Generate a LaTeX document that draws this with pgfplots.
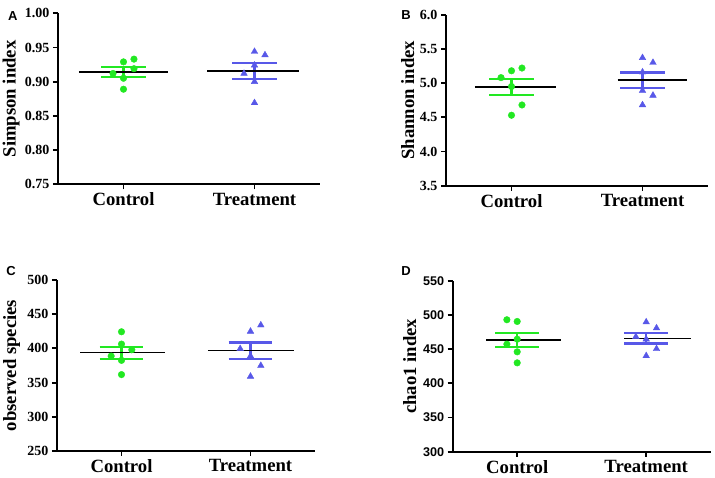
\documentclass[border=0pt]{standalone}
\usepackage{pgfplots}
\pgfplotsset{compat=1.18}
\usepackage{fontspec}
\setmainfont{Liberation Serif}
\newfontfamily\arialf{Liberation Sans}
\definecolor{cgreen}{RGB}{34,232,34}
\definecolor{cblue}{RGB}{88,88,232}
\pgfplotsset{
 myax/.style={scale only axis, height=171pt, anchor=south west,
  xmin=-0.5, xmax=1.5, axis x line*=bottom, axis y line*=left,
  axis line style={-, line width=1.9pt}, xtick={0,1}, xticklabels={Control,Treatment},
  tick style={line width=1.9pt, black}, tick align=outside, major tick length=5pt,
  minor tick num=0, clip=false,
  xticklabel style={font=\bfseries\fontsize{18.7}{20}\selectfont},
  yticklabel style={font=\bfseries\fontsize{14}{14}\selectfont},
  /pgf/number format/assume math mode=true,
  ylabel style={font=\bfseries\fontsize{18.7}{20}\selectfont, anchor=center}},
 ctrl/.style={only marks, mark=*, mark size=3.3pt, color=cgreen, mark options={draw=cgreen, fill=cgreen}},
 trt/.style={only marks, mark=triangle*, mark size=3.8pt, color=cblue, mark options={draw=cblue, fill=cblue}},
 meanl/.style={black, line width=1.5pt, no markers},
 gbar/.style={cgreen, line width=2.2pt, no markers},
 bbar/.style={cblue, line width=2.2pt, no markers},
}
\begin{document}
\begin{tikzpicture}
\path[use as bounding box] (0,0) rectangle (715pt,478pt);
% Panel A
\begin{axis}[myax, at={(58pt,293.7pt)}, width=262pt,
  ymin=0.75, ymax=1.0, ytick={0.75,0.8,0.85,0.9,0.95,1},
  yticklabel style={/pgf/number format/fixed, /pgf/number format/fixed zerofill, /pgf/number format/precision=2},
  ylabel={Simpson index}, ylabel style={at={(axis description cs:-0.179,0.5)}}]
\addplot[ctrl] coordinates {(0,0.929) (0.08,0.933) (-0.08,0.912) (0.08,0.919) (0,0.905) (0,0.889)};
\addplot[trt] coordinates {(1,0.944) (1.08,0.939) (0.92,0.912) (1,0.924) (1,0.900) (1,0.869)};
\addplot[gbar] coordinates {(-0.17,0.921) (0.17,0.921)};
\addplot[gbar] coordinates {(-0.17,0.907) (0.17,0.907)};
\addplot[gbar] coordinates {(0,0.907) (0,0.921)};
\addplot[bbar] coordinates {(0.83,0.927) (1.17,0.927)};
\addplot[bbar] coordinates {(0.83,0.904) (1.17,0.904)};
\addplot[bbar] coordinates {(1,0.904) (1,0.927)};
\addplot[meanl] coordinates {(-0.34,0.9145) (0.34,0.9145)};
\addplot[meanl] coordinates {(0.64,0.9155) (1.34,0.9155)};
\end{axis}
% Panel B
\begin{axis}[myax, at={(446pt,292.3pt)}, width=262pt,
  ymin=3.5, ymax=6.0, ytick={3.5,4,4.5,5,5.5,6},
  yticklabel style={/pgf/number format/fixed, /pgf/number format/fixed zerofill, /pgf/number format/precision=1},
  ylabel={Shannon index}, ylabel style={at={(axis description cs:-0.146,0.5)}}]
\addplot[ctrl] coordinates {(0,5.18) (0.08,5.22) (-0.08,5.08) (0,4.95) (0.08,4.68) (0,4.53)};
\addplot[trt] coordinates {(1,5.37) (1.08,5.30) (1,5.16) (1,4.89) (1.08,4.82) (1,4.68)};
\addplot[gbar] coordinates {(-0.17,5.056) (0.17,5.056)};
\addplot[gbar] coordinates {(-0.17,4.83) (0.17,4.83)};
\addplot[gbar] coordinates {(0,4.83) (0,5.056)};
\addplot[bbar] coordinates {(0.83,5.154) (1.17,5.154)};
\addplot[bbar] coordinates {(0.83,4.93) (1.17,4.93)};
\addplot[bbar] coordinates {(1,4.93) (1,5.154)};
\addplot[meanl] coordinates {(-0.28,4.944) (0.34,4.944)};
\addplot[meanl] coordinates {(0.81,5.042) (1.34,5.042)};
\end{axis}
% Panel C
\begin{axis}[myax, at={(57pt,27pt)}, width=258pt,
  ymin=250, ymax=500, ytick={250,300,350,400,450,500},
  ylabel={observed species}, ylabel style={at={(axis description cs:-0.176,0.5)}}]
\addplot[ctrl] coordinates {(0,424.3) (0,406.3) (0.08,398) (-0.08,388.8) (0,382.5) (0,361.7)};
\addplot[trt] coordinates {(1.08,434) (1,424.8) (0.92,399.5) (1,388.8) (1.08,374.8) (1,359)};
\addplot[gbar] coordinates {(-0.17,402) (0.17,402)};
\addplot[gbar] coordinates {(-0.17,385) (0.17,385)};
\addplot[gbar] coordinates {(0,385) (0,402)};
\addplot[bbar] coordinates {(0.83,408.7) (1.17,408.7)};
\addplot[bbar] coordinates {(0.83,385) (1.17,385)};
\addplot[bbar] coordinates {(1,385) (1,408.7)};
\addplot[meanl] coordinates {(-0.32,393.7) (0.34,393.7)};
\addplot[meanl] coordinates {(0.67,397) (1.34,397)};
\end{axis}
% Panel D
\begin{axis}[myax, at={(452.7pt,26.3pt)}, width=258pt,
  ymin=300, ymax=550, ytick={300,350,400,450,500,550},
  yticklabel style={font=\arialf\bfseries\fontsize{12.6}{13}\selectfont},
  ylabel={chao1 index}, ylabel style={at={(axis description cs:-0.167,0.5)}}]
\addplot[ctrl] coordinates {(-0.08,492.9) (0,490.4) (0,464.5) (-0.08,457.2) (0,446) (0,429.9)};
\addplot[trt] coordinates {(1,489.5) (1.08,480.7) (0.92,468) (1,464.5) (1.08,450.4) (1,440.1)};
\addplot[gbar] coordinates {(-0.17,473.8) (0.17,473.8)};
\addplot[gbar] coordinates {(-0.17,453.3) (0.17,453.3)};
\addplot[gbar] coordinates {(0,453.3) (0,473.8)};
\addplot[bbar] coordinates {(0.83,473.8) (1.17,473.8)};
\addplot[bbar] coordinates {(0.83,458.2) (1.17,458.2)};
\addplot[bbar] coordinates {(1,458.2) (1,473.8)};
\addplot[meanl] coordinates {(-0.24,463.6) (0.34,463.6)};
\addplot[meanl] coordinates {(0.83,465.5) (1.35,465.5)};
\end{axis}
\node[font=\arialf\bfseries\fontsize{13}{13}\selectfont] at (12.7pt,462.3pt) {A};
\node[font=\arialf\bfseries\fontsize{13}{13}\selectfont] at (406pt,463pt) {B};
\node[font=\arialf\bfseries\fontsize{13}{13}\selectfont] at (11pt,207.3pt) {C};
\node[font=\arialf\bfseries\fontsize{13}{13}\selectfont] at (406pt,207.3pt) {D};
\end{tikzpicture}
\end{document}
